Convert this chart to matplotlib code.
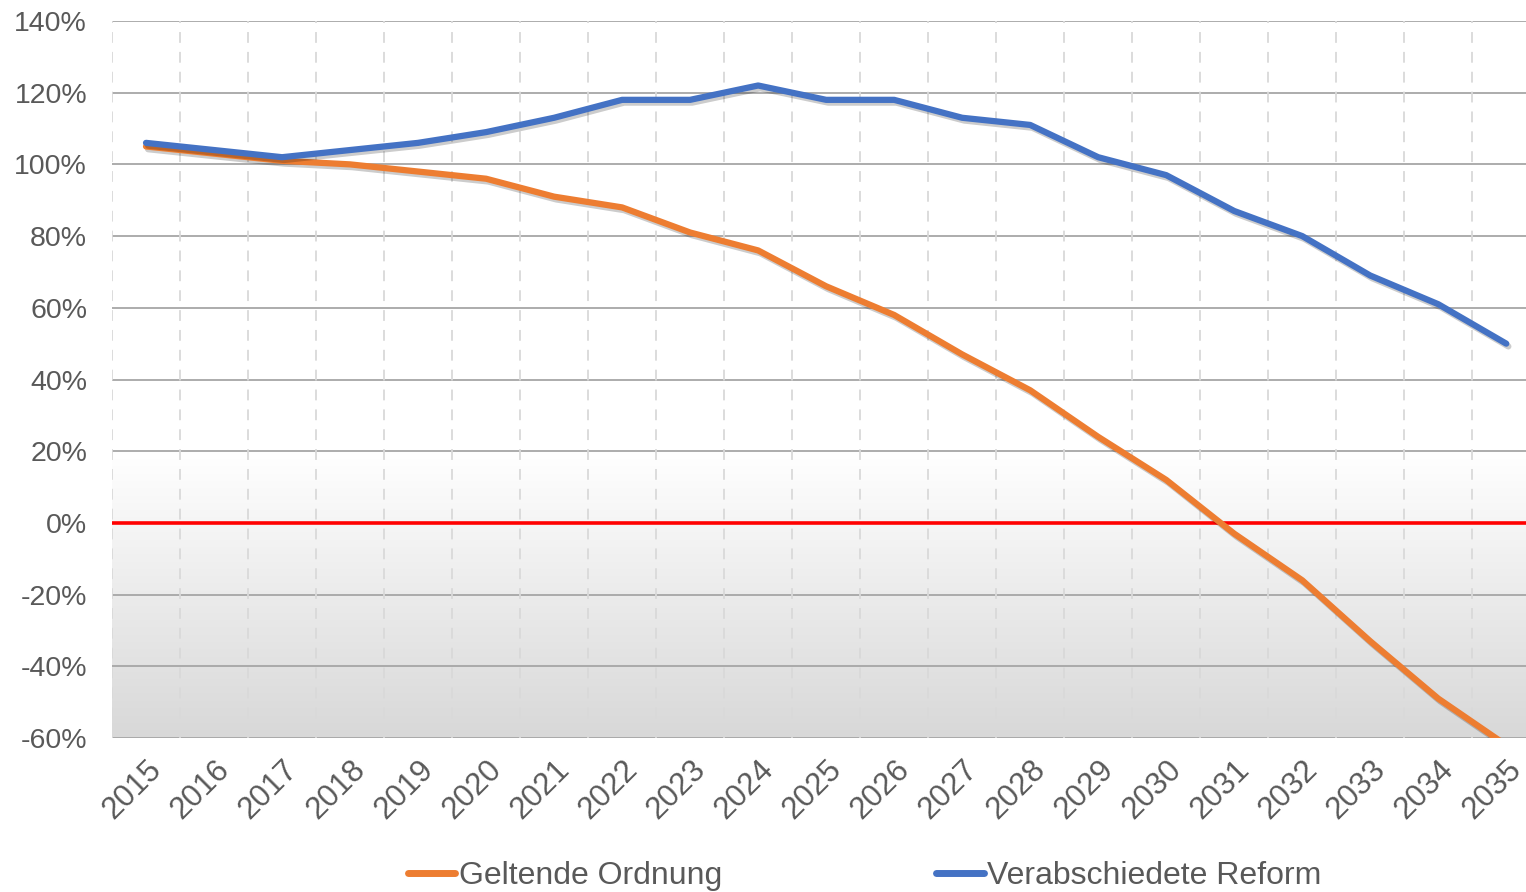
import numpy as np
import matplotlib
matplotlib.use("Agg")
import matplotlib.pyplot as plt
import matplotlib.patheffects as pe
from matplotlib.lines import Line2D
from matplotlib.ticker import FuncFormatter

years = list(range(2015, 2036))
geltende_ordnung = [105, 103, 101, 100, 98, 96, 91, 88, 81, 76, 66, 58, 47, 37,
                    24, 12, -3, -16, -33, -49, -62]
verabschiedete_reform = [106, 104, 102, 104, 106, 109, 113, 118, 118, 122, 118, 118,
                         113, 111, 102, 97, 87, 80, 69, 61, 50]
y_ticks = list(range(-60, 141, 20))

plt.rcParams["font.family"] = ["Liberation Sans", "DejaVu Sans"]
text_grey = "#595959"
orange = "#ed7d31"
blue = "#4472c4"

fig = plt.figure(figsize=(15.26, 8.92), dpi=100)
ax = fig.add_axes([0.0734, 0.1726, 0.9266, 0.8039])

x = np.arange(len(years))
ax.set_xlim(-0.5, len(years) - 1 + 0.29)
ax.set_ylim(-60, 140)

# soft grey gradient in the lower band
gradient = np.linspace(0, 1, 256).reshape(-1, 1)
ax.imshow(gradient, extent=[-0.5, len(years) + 1, -60, 20], aspect="auto",
          cmap=matplotlib.colors.LinearSegmentedColormap.from_list("g", ["#d8d8d8", "#ffffff"]),
          origin="lower", zorder=0)

for yv in y_ticks:
    ax.axhline(yv, color="#a6a6a6", linewidth=1.3, zorder=1)
for b in np.arange(-0.5, len(years) - 0.5, 1):
    ax.axvline(b, color="#d9d9d9", linewidth=1.3, linestyle=(0, (6, 5)), zorder=1)

ax.axhline(0, color="#ff0000", linewidth=2.6, zorder=2)

shadow = [pe.SimpleLineShadow(offset=(1.5, -2), alpha=0.2, shadow_color="black"), pe.Normal()]
ax.plot(x, geltende_ordnung, color=orange, linewidth=4.5, solid_capstyle="round",
        zorder=3, path_effects=shadow)
ax.plot(x, verabschiedete_reform, color=blue, linewidth=4.5, solid_capstyle="round",
        zorder=4, path_effects=shadow)

ax.set_yticks(y_ticks)
ax.yaxis.set_major_formatter(FuncFormatter(lambda v, _: f"{v:.0f}%"))
ax.set_xticks(x)
ax.set_xticklabels([str(yr) for yr in years], rotation=45, ha="right",
                   rotation_mode="anchor")
ax.tick_params(axis="y", length=0, labelsize=20.5, labelcolor=text_grey, pad=18)
ax.tick_params(axis="x", length=0, labelsize=22.5, labelcolor=text_grey, pad=12)
for spine in ax.spines.values():
    spine.set_visible(False)

handles = [Line2D([], [], color=orange, linewidth=5, solid_capstyle="round"),
           Line2D([], [], color=blue, linewidth=5, solid_capstyle="round")]
labels = ["Geltende Ordnung", "Verabschiedete Reform"]
fig.legend(handles, labels, loc="center", bbox_to_anchor=(0.5665, 0.0175), ncol=2,
           frameon=False, fontsize=23, labelcolor=text_grey, handlelength=1.5,
           handletextpad=0.1, columnspacing=6.7)

fig.savefig("out.png", dpi=100)
